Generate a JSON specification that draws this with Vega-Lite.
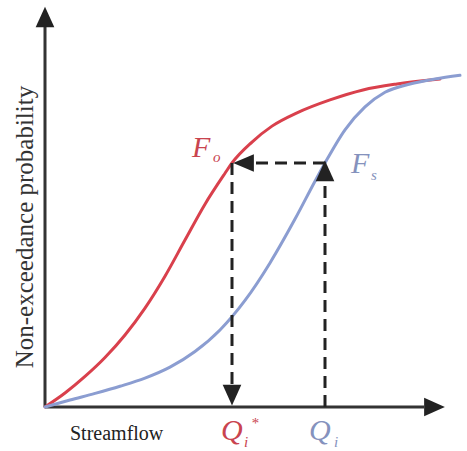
{
  "$schema": "https://vega.github.io/schema/vega-lite/v6.json",
  "width": 467,
  "height": 451,
  "autosize": "none",
  "padding": 0,
  "background": "white",
  "config": {"view": {"stroke": null}},
  "datasets": {
    "curves": [
      {"series": "Observed", "q": 0, "p": 0},
      {"series": "Observed", "q": 20, "p": 0.042},
      {"series": "Observed", "q": 40, "p": 0.092},
      {"series": "Observed", "q": 60, "p": 0.149},
      {"series": "Observed", "q": 80, "p": 0.217},
      {"series": "Observed", "q": 100, "p": 0.298},
      {"series": "Observed", "q": 120, "p": 0.394},
      {"series": "Observed", "q": 140, "p": 0.503},
      {"series": "Observed", "q": 160, "p": 0.611},
      {"series": "Observed", "q": 180, "p": 0.704},
      {"series": "Observed", "q": 187, "p": 0.735},
      {"series": "Observed", "q": 207, "p": 0.798},
      {"series": "Observed", "q": 227, "p": 0.846},
      {"series": "Observed", "q": 252, "p": 0.886},
      {"series": "Observed", "q": 285, "p": 0.925},
      {"series": "Observed", "q": 318, "p": 0.955},
      {"series": "Observed", "q": 352, "p": 0.973},
      {"series": "Observed", "q": 385, "p": 0.985},
      {"series": "Observed", "q": 395, "p": 0.988},
      {"series": "Simulated", "q": 0, "p": 0},
      {"series": "Simulated", "q": 25, "p": 0.021},
      {"series": "Simulated", "q": 50, "p": 0.041},
      {"series": "Simulated", "q": 75, "p": 0.0625},
      {"series": "Simulated", "q": 100, "p": 0.087},
      {"series": "Simulated", "q": 125, "p": 0.12},
      {"series": "Simulated", "q": 150, "p": 0.167},
      {"series": "Simulated", "q": 175, "p": 0.232},
      {"series": "Simulated", "q": 200, "p": 0.321},
      {"series": "Simulated", "q": 225, "p": 0.434},
      {"series": "Simulated", "q": 250, "p": 0.566},
      {"series": "Simulated", "q": 270, "p": 0.68},
      {"series": "Simulated", "q": 280, "p": 0.735},
      {"series": "Simulated", "q": 300, "p": 0.835},
      {"series": "Simulated", "q": 320, "p": 0.904},
      {"series": "Simulated", "q": 340, "p": 0.948},
      {"series": "Simulated", "q": 365, "p": 0.973},
      {"series": "Simulated", "q": 390, "p": 0.988},
      {"series": "Simulated", "q": 415, "p": 0.999}
    ],
    "axes": [
      {"q": 0, "p": 0, "q2": 0, "p2": 1.1446},
      {"q": 0, "p": 0, "q2": 379, "p2": 0}
    ],
    "dashes": [
      {"q": 280, "p": 0.735, "q2": 205, "p2": 0.735},
      {"q": 187, "p": 0.735, "q2": 187, "p2": 0.06},
      {"q": 280, "p": 0, "q2": 280, "p2": 0.685}
    ],
    "heads": [
      {"dir": "up", "q": 0, "p": 1.1747},
      {"dir": "right", "q": 389.5, "p": 0},
      {"dir": "left", "q": 198.5, "p": 0.735},
      {"dir": "up", "q": 280, "p": 0.711},
      {"dir": "down", "q": 187, "p": 0.036}
    ],
    "bigRed": [
      {"t": "F", "q": 147, "p": 0.753},
      {"t": "Q", "q": 176, "p": -0.0994}
    ],
    "smallRed": [
      {"t": "o", "q": 168, "p": 0.738},
      {"t": "i", "q": 199, "p": -0.12},
      {"t": "*", "q": 206, "p": -0.063}
    ],
    "bigBlue": [
      {"t": "F", "q": 306, "p": 0.705},
      {"t": "Q", "q": 264, "p": -0.0994}
    ],
    "smallBlue": [
      {"t": "s", "q": 326, "p": 0.684},
      {"t": "i", "q": 289, "p": -0.12}
    ],
    "xTitle": [{"t": "Streamflow", "q": 25, "p": -0.0994}],
    "yTitle": [{"t": "Non-exceedance probability", "q": -20, "p": 0.542}]
  },
  "encoding": {
    "x": {"field": "q", "type": "quantitative", "axis": null, "scale": {"domain": [-45, 422], "nice": false, "zero": false}},
    "y": {"field": "p", "type": "quantitative", "axis": null, "scale": {"domain": [-0.1325, 1.2259], "nice": false, "zero": false}}
  },
  "layer": [
    {
      "data": {"name": "axes"},
      "mark": {"type": "rule", "color": "#333333", "strokeWidth": 3},
      "encoding": {"x2": {"field": "q2"}, "y2": {"field": "p2"}}
    },
    {
      "data": {"name": "curves"},
      "mark": {"type": "line", "interpolate": "monotone", "strokeWidth": 3, "strokeCap": "round"},
      "encoding": {
        "color": {"field": "series", "type": "nominal", "legend": null, "scale": {"domain": ["Observed", "Simulated"], "range": ["#d9404c", "#8b9dd1"]}},
        "order": {"field": "q", "type": "quantitative"}
      }
    },
    {
      "data": {"name": "dashes"},
      "mark": {"type": "rule", "color": "#222222", "strokeWidth": 3, "strokeDash": [12, 7]},
      "encoding": {"x2": {"field": "q2"}, "y2": {"field": "p2"}}
    },
    {
      "data": {"name": "heads"},
      "mark": {"type": "point", "filled": true, "opacity": 1, "color": "#222222", "size": 430, "strokeWidth": 0},
      "encoding": {
        "shape": {"field": "dir", "type": "nominal", "legend": null, "scale": {"domain": ["up", "down", "left", "right"], "range": ["M0,-1L0.9,1L-0.9,1Z", "M0,1L0.9,-1L-0.9,-1Z", "M-1,0L1,-0.85L1,0.85Z", "M1,0L-1,-0.9L-1,0.9Z"]}}
      }
    },
    {
      "data": {"name": "bigRed"},
      "mark": {"type": "text", "font": "Liberation Serif", "fontStyle": "italic", "fontSize": 30, "color": "#c9444f", "align": "left", "baseline": "alphabetic"},
      "encoding": {"text": {"field": "t"}}
    },
    {
      "data": {"name": "smallRed"},
      "mark": {"type": "text", "font": "Liberation Serif", "fontStyle": "italic", "fontSize": 15, "color": "#c9444f", "align": "left", "baseline": "alphabetic"},
      "encoding": {"text": {"field": "t"}}
    },
    {
      "data": {"name": "bigBlue"},
      "mark": {"type": "text", "font": "Liberation Serif", "fontStyle": "italic", "fontSize": 30, "color": "#8592bd", "align": "left", "baseline": "alphabetic"},
      "encoding": {"text": {"field": "t"}}
    },
    {
      "data": {"name": "smallBlue"},
      "mark": {"type": "text", "font": "Liberation Serif", "fontStyle": "italic", "fontSize": 15, "color": "#8592bd", "align": "left", "baseline": "alphabetic"},
      "encoding": {"text": {"field": "t"}}
    },
    {
      "data": {"name": "xTitle"},
      "mark": {"type": "text", "font": "Liberation Serif", "fontSize": 20, "color": "#222222", "align": "left", "baseline": "alphabetic"},
      "encoding": {"text": {"field": "t"}}
    },
    {
      "data": {"name": "yTitle"},
      "mark": {"type": "text", "font": "Liberation Serif", "fontSize": 25, "color": "#333333", "align": "center", "baseline": "middle", "angle": 270},
      "encoding": {"text": {"field": "t"}}
    }
  ]
}
